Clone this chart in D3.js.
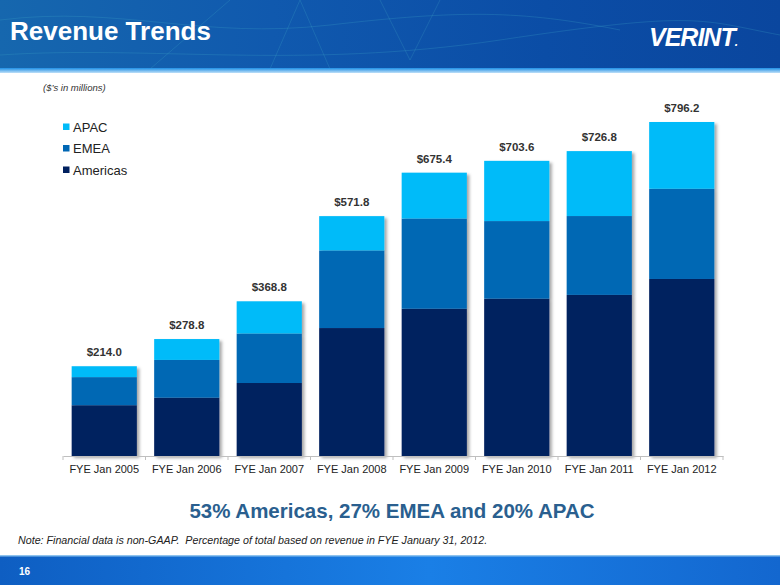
<!DOCTYPE html>
<html><head><meta charset="utf-8">
<script src="https://cdn.jsdelivr.net/npm/d3@7"></script>
<style>html,body{margin:0;padding:0;background:#fff;}svg{display:block;font-family:"Liberation Sans",Arial,sans-serif;}</style>
</head><body>
<script>
const categories = ["FYE Jan 2005","FYE Jan 2006","FYE Jan 2007","FYE Jan 2008","FYE Jan 2009","FYE Jan 2010","FYE Jan 2011","FYE Jan 2012"];
const americas = [121, 139, 174, 305, 351, 375, 384, 422];
const emea     = [67, 90, 118, 185, 215, 185, 188, 215];
const apac     = [26, 49.8, 76.8, 81.8, 109.4, 143.6, 154.8, 159.2];
const totals   = [214.0, 278.8, 368.8, 571.8, 675.4, 703.6, 726.8, 796.2];
const seriesNames = ["Americas","EMEA","APAC"];
const legendOrder = ["APAC","EMEA","Americas"];
const colors = {Americas:"#00205F", EMEA:"#0067B4", APAC:"#00BBF9"};

const W=780,H=585;
const svg=d3.select("body").append("svg").attr("width",W).attr("height",H);
const defs=svg.append("defs");

const hg=defs.append("linearGradient").attr("id","hg").attr("x1","0").attr("x2","1").attr("y1","0").attr("y2","0");
hg.append("stop").attr("offset","0").attr("stop-color","#1667AE");
hg.append("stop").attr("offset","0.35").attr("stop-color","#1059AE");
hg.append("stop").attr("offset","0.7").attr("stop-color","#0B4DA6");
hg.append("stop").attr("offset","1").attr("stop-color","#0A469E");
const sg=defs.append("linearGradient").attr("id","sg").attr("x1","0").attr("x2","0").attr("y1","0").attr("y2","1");
sg.append("stop").attr("offset","0").attr("stop-color","#1E8FE6");
sg.append("stop").attr("offset","1").attr("stop-color","#BFE0F8");
const fg=defs.append("linearGradient").attr("id","fg").attr("x1","0").attr("x2","1").attr("y1","0").attr("y2","0");
fg.append("stop").attr("offset","0").attr("stop-color","#0E5EC2");
fg.append("stop").attr("offset","0.55").attr("stop-color","#1A7FE6");
fg.append("stop").attr("offset","1").attr("stop-color","#1367CF");
const sh=defs.append("filter").attr("id","sh").attr("x","-10%").attr("y","-10%").attr("width","130%").attr("height","130%");
sh.append("feDropShadow").attr("dx",2.5).attr("dy",2).attr("stdDeviation",1.5).attr("flood-color","#000").attr("flood-opacity",0.35);

svg.append("rect").attr("x",0).attr("y",0).attr("width",W).attr("height",69).attr("fill","url(#hg)");
const deco=svg.append("g").attr("stroke","#3FA9C9").attr("stroke-opacity",0.25).attr("fill","none");
deco.append("path").attr("d","M0,20 C120,5 200,40 330,25 S520,10 620,30");
deco.append("path").attr("d","M150,69 L230,0 M270,69 L300,0 L330,69 M380,0 L410,60 L440,0");
deco.append("path").attr("d","M0,55 C150,45 300,70 500,40 S700,20 780,35");
svg.append("rect").attr("x",0).attr("y",68).attr("width",W).attr("height",5).attr("fill","url(#sg)");

svg.append("text").attr("x",10).attr("y",40).attr("fill","#fff").attr("font-weight","bold").attr("font-size",26).text("Revenue Trends");
const logo=svg.append("text").attr("x",649).attr("y",46).attr("fill","#fff").attr("font-weight","bold").attr("font-style","italic").attr("font-size",25).attr("letter-spacing",-1);
logo.append("tspan").text("VERINT");
logo.append("tspan").attr("font-size",12).attr("letter-spacing",0).text(".");

svg.append("rect").attr("x",0).attr("y",556).attr("width",W).attr("height",29).attr("fill","url(#fg)");
svg.append("rect").attr("x",0).attr("y",555).attr("width",W).attr("height",1.5).attr("fill","#8EC3EE");
svg.append("text").attr("x",19).attr("y",575).attr("fill","#fff").attr("font-weight","bold").attr("font-size",10).text("16");

svg.append("text").attr("x",43).attr("y",91).attr("fill","#333").attr("font-style","italic").attr("font-size",9.5).text("($\u2019s in millions)");

const x=d3.scaleBand().domain(categories).range([63,723]).paddingInner(0.21).paddingOuter(0.105);
const y=d3.scaleLinear().domain([0,800]).range([456,456-0.4195*800]);

const rows=categories.map((c,i)=>({cat:c,Americas:americas[i],EMEA:emea[i],APAC:apac[i],total:totals[i]}));
const stack=d3.stack().keys(seriesNames)(rows);

const barsG=svg.append("g");
rows.forEach((r,i)=>{
  const g=barsG.append("g").attr("filter","url(#sh)");
  stack.forEach(layer=>{
    const d=layer[i];
    g.append("rect").attr("x",x(r.cat)).attr("width",x.bandwidth())
      .attr("y",y(d[1])).attr("height",y(d[0])-y(d[1])).attr("fill",colors[layer.key]);
  });
});

svg.append("g").selectAll("text").data(rows).join("text")
  .attr("x",d=>x(d.cat)+x.bandwidth()/2).attr("y",d=>y(d.total)-10)
  .attr("text-anchor","middle").attr("font-weight","bold").attr("font-size",11.5).attr("fill","#333")
  .text(d=>"$"+d.total.toFixed(1));

const axis=svg.append("g").attr("transform","translate(0,456)").call(d3.axisBottom(x).tickSize(0).tickPadding(9));
axis.select(".domain").attr("stroke","#BFBFBF");
axis.selectAll("text").attr("font-size",11).attr("fill","#222").attr("font-family","Liberation Sans, Arial, sans-serif");
const bounds=d3.range(categories.length+1);
const r0=x.range()[0], r1=x.range()[1];
svg.append("g").selectAll("line").data(bounds).join("line")
  .attr("x1",i=>r0+i*(r1-r0)/categories.length).attr("x2",i=>r0+i*(r1-r0)/categories.length)
  .attr("y1",456).attr("y2",460).attr("stroke","#BFBFBF");

const lg=svg.append("g");
legendOrder.forEach((k,i)=>{
  const yy=127+i*21.5;
  lg.append("rect").attr("x",63).attr("y",yy-3.5).attr("width",6.5).attr("height",6.5).attr("fill",colors[k]);
  lg.append("text").attr("x",73).attr("y",yy+4.5).attr("font-size",13).attr("fill","#222").text(k);
});

svg.append("text").attr("x",392).attr("y",518).attr("text-anchor","middle").attr("font-weight","bold").attr("font-size",20.5).attr("fill","#2A5F8F").text("53% Americas, 27% EMEA and 20% APAC");
svg.append("text").attr("x",18).attr("y",544).attr("font-style","italic").attr("font-size",10.7).attr("fill","#222").attr("xml:space","preserve").style("white-space","pre").text("Note: Financial data is non-GAAP.  Percentage of total based on revenue in FYE January 31, 2012.");
</script>
</body></html>
